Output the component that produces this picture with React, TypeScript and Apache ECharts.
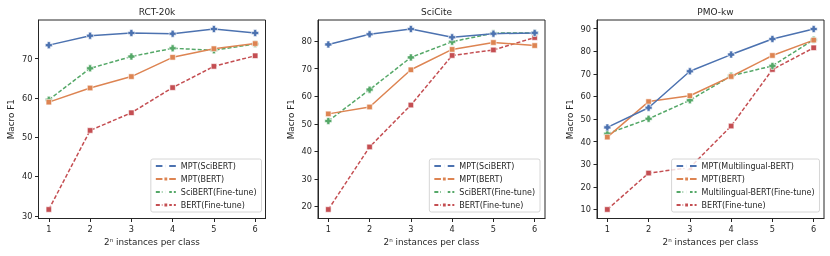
import React, { useEffect, useRef } from "react";
import * as echarts from "echarts";

const xs = [1, 2, 3, 4, 5, 6];
const xTicks = [1, 2, 3, 4, 5, 6];

const titles = ["RCT-20k", "SciCite", "PMO-kw"];

// RCT-20k
const rctMptSci = [73.4, 75.8, 76.5, 76.3, 77.5, 76.5];
const rctMptBert = [58.9, 62.5, 65.4, 70.3, 72.5, 73.8];
const rctSciFt = [59.5, 67.5, 70.5, 72.6, 72.1, 73.7];
const rctBertFt = [31.6, 51.7, 56.2, 62.6, 68.0, 70.7];
const rctTicks = [30, 40, 50, 60, 70];

// SciCite
const sciMptSci = [78.8, 82.5, 84.4, 81.4, 82.7, 83.0];
const sciMptBert = [53.6, 56.1, 69.6, 77.0, 79.5, 78.4];
const sciSciFt = [51.0, 62.4, 74.1, 79.8, 82.9, 83.0];
const sciBertFt = [18.9, 41.6, 56.8, 74.8, 76.8, 81.3];
const sciTicks = [20, 30, 40, 50, 60, 70, 80];

// PMO-kw
const pmoMptMl = [46.3, 55.0, 71.1, 78.5, 85.4, 89.8];
const pmoMptBert = [42.0, 57.7, 60.3, 68.8, 78.1, 84.9];
const pmoMlFt = [43.5, 50.1, 58.3, 69.1, 73.5, 85.1];
const pmoBertFt = [10.0, 26.1, 28.5, 46.9, 71.9, 81.5];
const pmoTicks = [10, 20, 30, 40, 50, 60, 70, 80, 90];

const names1 = ["MPT(SciBERT)", "MPT(BERT)", "SciBERT(Fine-tune)", "BERT(Fine-tune)"];
const names3 = ["MPT(Multilingual-BERT)", "MPT(BERT)", "Multilingual-BERT(Fine-tune)", "BERT(Fine-tune)"];

const colors = ["#4C72B0", "#DD8452", "#55A868", "#C44E52"];
const PLUS = "path://M-1.3,-3L1.3,-3L1.3,-1.3L3,-1.3L3,1.3L1.3,1.3L1.3,3L-1.3,3L-1.3,1.3L-3,1.3L-3,-1.3L-1.3,-1.3Z";
const symbols = [PLUS, "rect", PLUS, "rect"];
const dashed = [false, false, true, true];

const panels = [
  { title: titles[0], names: names1, data: [rctMptSci, rctMptBert, rctSciFt, rctBertFt], ticks: rctTicks },
  { title: titles[1], names: names1, data: [sciMptSci, sciMptBert, sciSciFt, sciBertFt], ticks: sciTicks },
  { title: titles[2], names: names3, data: [pmoMptMl, pmoMptBert, pmoMlFt, pmoBertFt], ticks: pmoTicks },
];

const gridLefts = [38.5, 318, 597];
const gridWidth = 227;
const gridTop = 20;
const gridHeight = 198.5;
const legendRights = [568.5, 290, 10.5];
const TXT = "#262626";
const FONT = "DejaVu Sans";

export default function App() {
  const ref = useRef<HTMLDivElement>(null);
  useEffect(() => {
    document.body.style.margin = "0";
    const chart = echarts.init(ref.current!, undefined, { renderer: "svg" });
    const grid: any[] = [];
    const xAxis: any[] = [];
    const yAxis: any[] = [];
    const series: any[] = [];
    const title: any[] = [];
    const legend: any[] = [];
    panels.forEach((p, i) => {
      const all = p.data.flat();
      const lo = Math.min(...all);
      const hi = Math.max(...all);
      const pad = (hi - lo) * 0.05;
      grid.push({
        left: gridLefts[i], top: gridTop, width: gridWidth, height: gridHeight,
        show: true, borderColor: TXT, borderWidth: 1, backgroundColor: "transparent",
      });
      title.push({
        text: p.title, left: gridLefts[i] + gridWidth / 2, top: 2, textAlign: "center",
        textStyle: { fontFamily: FONT, fontSize: 9, fontWeight: "normal", color: TXT },
      });
      xAxis.push({
        type: "value", gridIndex: i, min: 0.75, max: 6.25,
        name: "2ⁿ instances per class", nameLocation: "middle", nameGap: 19,
        nameTextStyle: { fontFamily: FONT, fontSize: 8.8, color: TXT },
        axisLine: { show: true, lineStyle: { color: TXT, width: 1 } },
        axisTick: { show: true, length: 3.5, customValues: xTicks, lineStyle: { color: TXT, width: 1 } },
        axisLabel: { customValues: xTicks, margin: 6, fontFamily: FONT, fontSize: 8.2, color: TXT },
        splitLine: { show: false },
      });
      yAxis.push({
        type: "value", gridIndex: i, min: lo - pad, max: hi + pad,
        name: "Macro F1", nameLocation: "middle", nameGap: 23,
        nameTextStyle: { fontFamily: FONT, fontSize: 8.8, color: TXT },
        axisLine: { show: true, lineStyle: { color: TXT, width: 1 } },
        axisTick: { show: true, length: 3.5, customValues: p.ticks, lineStyle: { color: TXT, width: 1 } },
        axisLabel: { customValues: p.ticks, margin: 6, fontFamily: FONT, fontSize: 8.2, color: TXT },
        splitLine: { show: false },
      });
      p.data.forEach((vals, k) => {
        series.push({
          type: "line", name: p.names[k], xAxisIndex: i, yAxisIndex: i,
          data: xs.map((x, j) => [x, vals[j]]),
          symbol: symbols[k], symbolSize: k % 2 === 0 ? 7 : 5.5,
          lineStyle: { color: colors[k], width: 1.5, type: dashed[k] ? [4, 2] : "solid" },
          itemStyle: { color: colors[k], borderColor: "#fff", borderWidth: 0.6 },
          z: 2 + (3 - k) * 0.01,
        });
      });
      legend.push({
        data: p.names, orient: "vertical", right: legendRights[i], top: 159,
        align: "left", itemWidth: 20, itemHeight: 6, itemGap: 5,
        padding: [3, 5, 3, 4],
        borderColor: "#cccccc", borderWidth: 0.8, borderRadius: 2,
        backgroundColor: "rgba(255,255,255,0.8)",
        textStyle: { fontFamily: FONT, fontSize: 8, color: TXT },
        selectedMode: false,
      });
    });
    chart.setOption({
      animation: false,
      textStyle: { fontFamily: FONT },
      title, grid, xAxis, yAxis, series, legend,
    });
    return () => chart.dispose();
  }, []);
  return <div ref={ref} style={{ position: "fixed", left: 0, top: 0, width: 830, height: 256 }} />;
}
